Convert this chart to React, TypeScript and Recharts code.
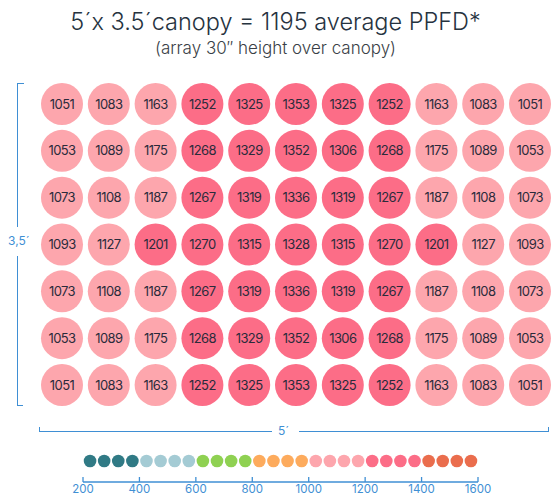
import React from 'react';
import { ScatterChart, Scatter, XAxis, YAxis } from 'recharts';

// PPFD readings, top row first
const gridRows: number[][] = [
  [1051, 1083, 1163, 1252, 1325, 1353, 1325, 1252, 1163, 1083, 1051],
  [1053, 1089, 1175, 1268, 1329, 1352, 1306, 1268, 1175, 1089, 1053],
  [1073, 1108, 1187, 1267, 1319, 1336, 1319, 1267, 1187, 1108, 1073],
  [1093, 1127, 1201, 1270, 1315, 1328, 1315, 1270, 1201, 1127, 1093],
  [1073, 1108, 1187, 1267, 1319, 1336, 1319, 1267, 1187, 1108, 1073],
  [1053, 1089, 1175, 1268, 1329, 1352, 1306, 1268, 1175, 1089, 1053],
  [1051, 1083, 1163, 1252, 1325, 1353, 1325, 1252, 1163, 1083, 1051],
];

// colour scale bands
const bandStarts = [200, 400, 600, 800, 1000, 1200, 1400];
const bandColors = ['#307a85', '#a4cbd4', '#8fd152', '#fdab5d', '#fda6ad', '#fc6d87', '#ea6d4d'];

// legend dots (bin centres)
const legendValues = [
  225, 275, 325, 375, 425, 475, 525, 575, 625, 675, 725, 775, 825, 875,
  925, 975, 1025, 1075, 1125, 1175, 1225, 1275, 1325, 1375, 1425, 1475, 1525, 1575,
];
const legendTicks = [200, 400, 600, 800, 1000, 1200, 1400, 1600];

const blue = '#3f8fd4';
const font = 'Inter, "Noto Sans", sans-serif';

function colorFor(v: number) {
  let c = bandColors[0];
  bandStarts.forEach((s, i) => {
    if (v >= s) c = bandColors[i];
  });
  return c;
}

const gridData = gridRows.flatMap((row, r) =>
  row.map((value, c) => ({ col: c, row: r, value }))
);
const legendData = legendValues.map((v) => ({ v, y: 0.5 }));

function Cell(props: any) {
  const { cx, cy, payload } = props;
  return (
    <g>
      <circle cx={cx} cy={cy} r={21} fill={colorFor(payload.value)} />
      <text
        x={cx}
        y={cy}
        dy="0.35em"
        textAnchor="middle"
        fontSize={13}
        fill="#2b2b3b"
        fontFamily={font}
        letterSpacing={-0.6}
      >
        {payload.value}
      </text>
    </g>
  );
}

function Dot(props: any) {
  const { cx, cy, payload } = props;
  return <circle cx={cx} cy={cy} r={6.3} fill={colorFor(payload.v)} />;
}

function LegendTick(props: any) {
  const { x, y, payload } = props;
  return (
    <g>
      <line x1={x} y1={y} x2={x} y2={y - 5} stroke={blue} strokeWidth={1.3} />
      <text x={x} y={y + 11} textAnchor="middle" fontSize={11.5} fill={blue} fontFamily={font}>
        {payload.value}
      </text>
    </g>
  );
}

export default function App() {
  return (
    <div style={{ position: 'absolute', left: 0, top: 0, width: 551, height: 497, background: '#fff', overflow: 'hidden', fontFamily: font }}>
      <div style={{ position: 'absolute', top: 7, left: 0, width: 551, textAlign: 'center', fontSize: 23.5, fontWeight: 300, color: '#26333f' }}>
        5´x 3.5´canopy = 1195 average PPFD*
      </div>
      <div style={{ position: 'absolute', top: 38, left: 0, width: 551, textAlign: 'center', fontSize: 17, fontWeight: 300, color: '#3a3f47' }}>
        (array 30″ height over canopy)
      </div>

      {/* left bracket */}
      <div style={{ position: 'absolute', left: 17, top: 83, width: 6, height: 143, borderLeft: `1.5px solid ${blue}`, borderTop: `1.5px solid ${blue}` }} />
      <div style={{ position: 'absolute', left: 8, top: 233, fontSize: 12, color: blue }}>3,5´</div>
      <div style={{ position: 'absolute', left: 17, top: 256, width: 5, height: 149, borderLeft: `1.5px solid ${blue}`, borderBottom: `1.5px solid ${blue}` }} />

      {/* bottom bracket */}
      <div style={{ position: 'absolute', left: 39, top: 427, width: 232, height: 4, borderLeft: `1.5px solid ${blue}`, borderBottom: `1.5px solid ${blue}` }} />
      <div style={{ position: 'absolute', left: 278, top: 423, fontSize: 12, color: blue }}>5´</div>
      <div style={{ position: 'absolute', left: 299, top: 427, width: 249, height: 4, borderRight: `1.5px solid ${blue}`, borderBottom: `1.5px solid ${blue}` }} />

      <div style={{ position: 'absolute', left: 0, top: 0 }}>
        <ScatterChart width={551} height={497} margin={{ top: 104, right: 21, bottom: 112, left: 62 }}>
          <XAxis type="number" dataKey="col" domain={[0, 10]} hide />
          <YAxis type="number" dataKey="row" domain={[0, 6]} reversed hide />
          <Scatter data={gridData} shape={<Cell />} isAnimationActive={false} />
        </ScatterChart>
      </div>

      <div style={{ position: 'absolute', left: 0, top: 440 }}>
        <ScatterChart width={551} height={57} margin={{ top: 0, right: 73, bottom: 0, left: 83 }}>
          <XAxis
            type="number"
            dataKey="v"
            domain={[200, 1600]}
            ticks={legendTicks}
            height={15}
            axisLine={{ stroke: blue, strokeWidth: 1.3 }}
            tickLine={false}
            tickSize={0}
            tickMargin={0}
            tick={<LegendTick />}
            interval={0}
          />
          <YAxis type="number" dataKey="y" domain={[0, 1]} hide />
          <Scatter data={legendData} shape={<Dot />} isAnimationActive={false} />
        </ScatterChart>
      </div>
    </div>
  );
}
